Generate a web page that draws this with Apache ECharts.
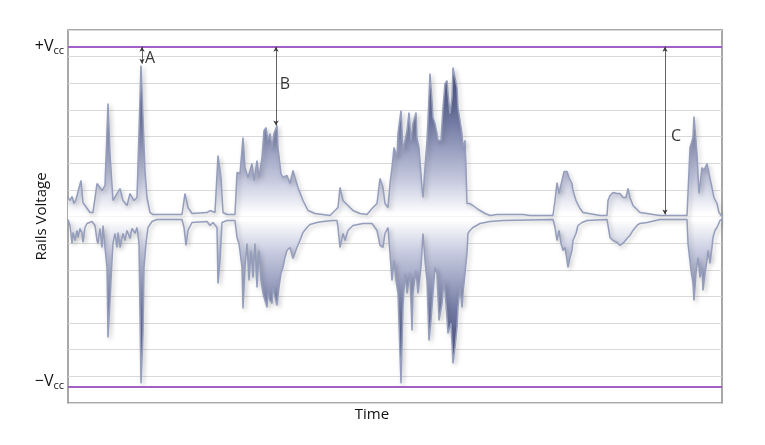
<!DOCTYPE html>
<html>
<head>
<meta charset="utf-8">
<script src="https://cdn.jsdelivr.net/npm/echarts@6/dist/echarts.min.js"></script>
<style>
html,body{margin:0;padding:0;background:#fff;}
#chart{width:765px;height:445px;}
</style>
</head>
<body>
<div id="chart"></div>
<script>
// Time axis (arbitrary units) and amplitude (arbitrary units, rails at +/-170)
const timeRange = [0, 654];
const railVoltage = 170;
const axisExtent = 560 / 3;
const gridStep = 80 / 3;

const upperEnvelope = [
[0,19],[2,16],[4,20],[6,13],[8,17],[10,15],[13,36],[15,14],[22,4],[25,4],[29,33],[32,29],[34,26],[37,31],
[40,113],[42,63],[45,16],[49,23],[52,28],[55,16],[59,11],[62,23],[66,16],[69,19],[71,21],[73,151],[75,99],
[77,46],[79,19],[82,4],[85,2],[114,2],[117,23],[120,9],[124,3],[139,4],[142,6],[147,4],[150,61],[153,39],
[155,4],[159,2],[167,2],[169,44],[172,43],[175,79],[177,49],[180,39],[184,53],[186,36],[189,56],[191,39],
[194,59],[196,86],[198,89],[200,76],[202,83],[204,69],[206,83],[209,91],[210,69],[213,43],[215,39],[219,41],
[222,33],[225,46],[227,39],[230,29],[235,16],[240,6],[247,3],[262,1],[270,9],[272,29],[275,16],[277,14],
[280,11],[285,6],[292,3],[299,2],[304,8],[309,13],[312,38],[315,29],[317,13],[320,9],[322,33],[324,49],
[326,69],[329,59],[330,83],[333,106],[335,66],[337,76],[339,86],[341,104],[343,76],[345,93],[348,104],
[349,79],[351,69],[354,29],[355,19],[357,49],[359,76],[360,96],[362,143],[364,116],[365,99],[367,93],
[369,83],[370,76],[373,76],[375,109],[377,133],[379,136],[380,123],[382,103],[384,119],[385,149],[387,151],
[389,129],[390,109],[392,96],[394,83],[395,69],[397,76],[398,49],[399,13],[402,13],[405,11],[409,8],
[412,6],[417,3],[422,1],[429,2],[455,2],[462,1],[485,1],[487,16],[489,34],[491,23],[494,36],[496,45],
[499,45],[501,39],[504,33],[505,26],[508,16],[510,14],[512,8],[515,4],[517,3],[532,1],[539,1],[540,16],
[542,21],[545,24],[549,23],[552,23],[555,19],[558,19],[560,28],[562,19],[565,11],[569,7],[572,4],[579,3],
[585,2],[592,1],[619,1],[620,23],[622,69],[625,79],[626,100],[629,63],[631,23],[634,49],[636,46],[639,53],
[641,53],[644,29],[646,19],[649,13],[651,4],[654,0]
];

const lowerEnvelope = [
[0,-3],[2,-9],[4,-27],[5,-16],[7,-24],[9,-14],[10,-21],[12,-12],[14,-17],[15,-26],[17,-11],[19,-7],[21,-6],
[24,-5],[25,-6],[27,-9],[29,-24],[30,-27],[32,-12],[34,-31],[35,-9],[37,-31],[39,-51],[40,-121],[42,-84],
[44,-44],[45,-27],[47,-17],[49,-31],[50,-16],[52,-31],[55,-17],[57,-24],[59,-14],[62,-22],[64,-12],[67,-17],
[69,-11],[71,-27],[73,-167],[75,-117],[76,-51],[78,-27],[80,-11],[84,-5],[89,-3],[114,-3],[116,-11],[118,-29],
[120,-14],[124,-6],[139,-5],[142,-9],[145,-6],[149,-11],[150,-67],[152,-44],[154,-6],[159,-4],[167,-4],
[169,-21],[171,-27],[174,-51],[175,-92],[177,-51],[179,-27],[181,-64],[183,-34],[185,-61],[187,-27],[189,-71],
[191,-34],[193,-64],[195,-77],[197,-84],[199,-91],[200,-77],[202,-84],[204,-87],[205,-71],[207,-81],[209,-89],
[211,-71],[213,-57],[215,-51],[217,-41],[219,-34],[222,-31],[225,-42],[229,-31],[232,-24],[235,-16],[239,-11],
[242,-8],[249,-6],[255,-5],[265,-4],[269,-4],[270,-11],[272,-31],[275,-17],[277,-24],[280,-14],[285,-9],
[295,-7],[304,-7],[309,-14],[312,-29],[315,-31],[317,-17],[320,-11],[322,-37],[324,-64],[326,-44],[328,-64],
[330,-77],[333,-167],[335,-91],[337,-57],[339,-77],[342,-57],[344,-114],[345,-77],[348,-54],[350,-77],
[353,-51],[355,-17],[357,-44],[359,-64],[361,-124],[363,-104],[365,-77],[367,-51],[369,-57],[371,-104],
[374,-87],[376,-64],[378,-87],[380,-117],[383,-107],[385,-147],[387,-131],[389,-111],[390,-91],[392,-71],
[394,-91],[395,-77],[397,-57],[399,-37],[400,-17],[402,-14],[405,-11],[412,-7],[422,-5],[435,-4],[485,-3],
[487,-11],[489,-24],[491,-14],[493,-27],[495,-34],[497,-31],[499,-44],[500,-51],[502,-41],[504,-34],[505,-24],
[508,-17],[510,-9],[514,-6],[519,-4],[539,-3],[540,-9],[542,-21],[545,-24],[549,-26],[552,-29],[555,-27],
[559,-22],[562,-19],[565,-14],[569,-9],[572,-7],[579,-6],[592,-3],[619,-3],[620,-27],[623,-54],[625,-67],
[626,-84],[628,-57],[630,-41],[632,-61],[634,-51],[635,-74],[637,-57],[639,-44],[640,-34],[642,-47],[644,-31],
[645,-21],[647,-14],[649,-11],[652,-4],[654,-3]
];

// Headroom annotations: [label, time, peak amplitude]
const headroomMarks = [
  ['A', 74, 153],
  ['B', 208, 91],
  ['C', 597, 2]
];
// Annotation letter positions: [label, time, amplitude]
const headroomLabels = [
  ['A', 82, 158],
  ['B', 217, 132],
  ['C', 608, 80]
];

const chart = echarts.init(document.getElementById('chart'), null, {renderer: 'canvas'});
const FONT = 'Open Sans';

const upperGrad = new echarts.graphic.LinearGradient(0, 48, 0, 214, [
  {offset: 0, color: '#30376a'},
  {offset: 0.45, color: '#737ba4'},
  {offset: 0.8, color: '#c6cadf'},
  {offset: 1, color: '#ffffff'}
], true);
const lowerGrad = new echarts.graphic.LinearGradient(0, 220, 0, 384, [
  {offset: 0, color: '#ffffff'},
  {offset: 0.2, color: '#c6cadf'},
  {offset: 0.55, color: '#737ba4'},
  {offset: 1, color: '#30376a'}
], true);

const waveLine = {
  color: '#949dbb', width: 1.5,
  shadowColor: 'rgba(60,60,70,0.35)', shadowBlur: 4, shadowOffsetX: 2, shadowOffsetY: 2
};

chart.setOption({
  animation: false,
  backgroundColor: '#ffffff',
  grid: {
    left: 68, right: 43, top: 30, bottom: 42,
    show: true, borderColor: '#8c8c8c', borderWidth: 1.5, backgroundColor: 'transparent'
  },
  xAxis: {
    type: 'value', min: timeRange[0], max: timeRange[1],
    name: 'Time', nameLocation: 'middle', nameGap: 4,
    nameTextStyle: {fontFamily: FONT, fontSize: 15, color: '#111', padding: [0, 46, 0, 0]},
    axisLine: {show: false}, axisTick: {show: false}, axisLabel: {show: false}, splitLine: {show: false}
  },
  yAxis: {
    type: 'value', min: -axisExtent, max: axisExtent, interval: gridStep,
    name: 'Rails Voltage', nameLocation: 'middle', nameGap: 19,
    nameTextStyle: {fontFamily: FONT, fontSize: 15, color: '#111'},
    axisLine: {show: false}, axisTick: {show: false}, axisLabel: {show: false},
    splitLine: {show: true, lineStyle: {color: '#d9d9d9', width: 1}}
  },
  series: [
    {
      type: 'line', name: 'upper', data: upperEnvelope, symbol: 'none', silent: true,
      lineStyle: waveLine, areaStyle: {origin: 0, color: upperGrad, opacity: 1}, z: 3
    },
    {
      type: 'line', name: 'lower', data: lowerEnvelope, symbol: 'none', silent: true,
      lineStyle: waveLine, areaStyle: {origin: 0, color: lowerGrad, opacity: 1}, z: 3
    },
    {
      type: 'line', name: 'rails', data: [], silent: true, z: 4,
      markLine: {
        silent: true, symbol: 'none',
        lineStyle: {color: '#a35fc4', width: 2, type: 'solid'},
        label: {
          show: true, position: 'start', distance: 4, fontFamily: FONT, color: '#111',
          rich: {
            v: {fontFamily: FONT, fontSize: 16, color: '#111', lineHeight: 20},
            s: {fontFamily: FONT, fontSize: 11, color: '#111', lineHeight: 20, padding: [9, 0, 0, 0]}
          }
        },
        data: [
          {yAxis: railVoltage, label: {formatter: '{v|+V}{s|cc}'}},
          {yAxis: -railVoltage, label: {formatter: '{v|\u2212V}{s|cc}', offset: [0, -5]}}
        ]
      }
    },
    {
      type: 'line', name: 'headroom', data: [], silent: true, z: 5,
      markLine: {
        silent: true, symbol: ['arrow', 'arrow'], symbolSize: [4, 5],
        lineStyle: {color: '#3a3a3a', width: 0.8, type: 'solid'},
        label: {show: false},
        data: headroomMarks.map(m => [{coord: [m[1], railVoltage]}, {coord: [m[1], m[2]]}])
      }
    },
    {
      type: 'scatter', name: 'labels', silent: true, symbolSize: 0, z: 6,
      data: headroomLabels.map(l => ({name: l[0], value: [l[1], l[2]]})),
      label: {show: true, position: 'inside', formatter: p => p.name, fontFamily: FONT, fontSize: 16, color: '#000'}
    }
  ]
});
</script>
</body>
</html>
